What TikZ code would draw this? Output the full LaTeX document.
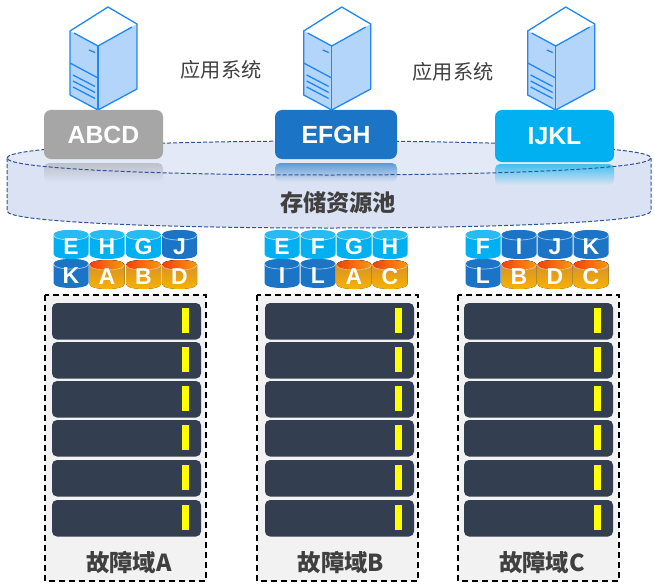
\documentclass[tikz,border=0pt]{standalone}
\usepackage{fontspec}
\setmainfont{Liberation Sans}
\newfontfamily\cjk{Noto Sans CJK SC}
\definecolor{srvline}{HTML}{1E88F5}
\definecolor{srvfill}{HTML}{B4D5FA}
\definecolor{cgray}{HTML}{A6A6A6}
\definecolor{cblue}{HTML}{1B74C5}
\definecolor{ccyan}{HTML}{00B0F0}
\definecolor{discedge}{HTML}{2F5597}
\definecolor{disctop}{HTML}{E4E9F7}
\definecolor{discbody}{HTML}{DAE2F3}
\definecolor{bardark}{HTML}{333F50}
\definecolor{domfill}{HTML}{F2F2F2}
\definecolor{txtdark}{HTML}{404040}
\definecolor{orgtop}{HTML}{F5400A}
\definecolor{orgend}{HTML}{F59A10}
\definecolor{orgmid}{HTML}{D08A30}
\definecolor{orgbot}{HTML}{FAB400}
\definecolor{ledyel}{HTML}{FFFF00}
\tikzset{
  x=1pt,y=-1pt,
  srvln/.style={draw=srvline,line width=1.3pt,line join=round},
  sysbox/.style={rounded corners=7pt},
  boxtext/.style={text=white,font=\bfseries\fontsize{24.8}{25}\selectfont,inner sep=0pt},
  faultdom/.style={draw=black,fill=domfill,line width=1.5pt,dash pattern=on 6pt off 4pt},
  barbox/.style={fill=bardark,rounded corners=5pt},
  ledbar/.style={fill=ledyel},
  cyltext/.style={text=white,font=\bfseries\fontsize{23}{23}\selectfont,inner sep=0pt},
  domlabel/.style={text=txtdark,font=\cjk\bfseries\fontsize{23.4}{24}\selectfont,inner sep=0pt},
  syslabel/.style={text=txtdark,font=\cjk\fontsize{20.2}{21}\selectfont,inner sep=0pt},
  pooldash/.style={draw=discedge,line width=1pt,dash pattern=on 4pt off 2pt},
}
\newcommand{\srv}[1]{
 \begin{scope}[xshift=#1pt]
  \fill[white] (70,31)--(108,7)--(137,24)--(98,46)--cycle;
  \fill[srvfill] (70,31)--(98,46)--(137,24)--(137,89)--(98,110)--(70,95)--cycle;
  \draw[srvln] (70,31)--(108,7)--(137,24)--(137,89)--(98,110)--(70,95)--cycle;
  \draw[srvln] (74,33)--(98,46)--(132,27);
  \draw[srvln] (98,46)--(98,110);
  \draw[srvln] (70,63)--(98,78);
  \draw[srvln] (89,50)--(95,52.5);
  \draw[srvln] (73,75)--(95,86.5);
  \draw[srvln] (73,81)--(95,92.5);
  \draw[srvln] (73,87)--(95,98.5);
 \end{scope}}
% cylinder: x, y, body fill options, top fill options, label, name
\newcommand{\cyl}[6]{
  \fill[#3] (#1,#2+5) .. controls (#1,#2-1.67) and (#1+35,#2-1.67) .. (#1+35,#2+5)
     -- (#1+35,#2+24) .. controls (#1+35,#2+30.67) and (#1,#2+30.67) .. (#1,#2+24) -- cycle;
  \fill[#4] (#1,#2+5) .. controls (#1,#2-1.67) and (#1+35,#2-1.67) .. (#1+35,#2+5)
     .. controls (#1+35,#2+11.67) and (#1,#2+11.67) .. (#1,#2+5) -- cycle;
  \draw[white,opacity=.6,line width=.7pt] (#1,#2+5) .. controls (#1,#2+11.67) and (#1+35,#2+11.67) .. (#1+35,#2+5);
  \node[cyltext] (#6) at (#1+17.5,#2+17) {#5};
}
\newcommand{\blu}[4]{\cyl{#1}{#2}{cblue}{cblue}{#3}{#4}}
\newcommand{\cya}[4]{\cyl{#1}{#2}{ccyan}{ccyan!85!white}{#3}{#4}}
\newcommand{\org}[4]{\cyl{#1}{#2}{top color=orgmid,bottom color=orgbot}{left color=orgtop,right color=orgend}{#3}{#4}}
\newcommand{\dom}[4]{%
  \draw[faultdom] (#1,295) rectangle (#1+161,581);
  \foreach \yy in {303,342,381,420,460,500}{
    \fill[barbox] (#2,\yy) rectangle (#2+149,\yy+36.5);
    \fill[ledbar] (#4,\yy+5) rectangle (#4+7,\yy+30);
  }
  \node[domlabel] (dom#3) at (#1+84,562) {故障域#3};
}
\begin{document}
\begin{tikzpicture}
\useasboundingbox (0,0) rectangle (655,583);
\fill[white] (0,0) rectangle (655,583);
% disc
\fill[discbody] (7,158) -- (7,211) .. controls (7,233.67) and (651,233.67) .. (651,211) -- (651,158) -- cycle;
\fill[disctop] (7,158) .. controls (7,135.33) and (651,135.33) .. (651,158) .. controls (651,180.67) and (7,180.67) .. (7,158) -- cycle;
% reflections
\shade[rounded corners=5pt,top color=cgray!55!discbody,bottom color=discbody] (44,163) rectangle (163,182);
\shade[rounded corners=5pt,top color=cblue!65!discbody,bottom color=discbody] (275,163) rectangle (397,182);
\shade[rounded corners=5pt,top color=ccyan!70!discbody,bottom color=discbody] (495,164) rectangle (614,185);
% disc outline
\draw[pooldash] (7,158) .. controls (7,135.33) and (651,135.33) .. (651,158) .. controls (651,180.67) and (7,180.67) .. (7,158) -- cycle;
\draw[pooldash] (7,158) -- (7,211) .. controls (7,233.67) and (651,233.67) .. (651,211) -- (651,158);
% servers
\srv{0}\srv{233.7}\srv{457.7}
% boxes
\fill[cgray,sysbox] (44,110) rectangle (163,159);
\fill[cblue,sysbox] (275,110) rectangle (397,159);
\fill[ccyan,sysbox] (495,110) rectangle (614,162);
\node[boxtext] (abcd) at (103.5,135) {ABCD};
\node[boxtext] (efgh) at (336,135) {EFGH};
\node[boxtext] (ijkl) at (554.5,136) {IJKL};
% labels
\node[syslabel] (s1) at (221,70) {应用系统};
\node[syslabel] (s2) at (453,72) {应用系统};
\node[font=\cjk\bfseries\fontsize{23.2}{24}\selectfont,text=txtdark,inner sep=0pt] (pool) at (338,203) {存储资源池};
% cylinders
\cya{53.5}{230}{E}{a1}\cya{89.5}{230}{H}{a2}\cya{126}{230}{G}{a3}\blu{162}{230}{J}{a4}
\blu{53.5}{259}{K}{a5}\org{89.5}{260}{A}{a6}\org{126}{260}{B}{a7}\org{162}{260}{D}{a8}
\cya{264.5}{230}{E}{b1}\cya{300.5}{230}{F}{b2}\cya{336.5}{230}{G}{b3}\cya{372.5}{230}{H}{b4}
\blu{264.5}{259}{I}{b5}\blu{300.5}{259}{L}{b6}\org{336.5}{260}{A}{b7}\org{372.5}{260}{C}{b8}
\cya{465.5}{230}{F}{c1}\blu{501.5}{230}{I}{c2}\blu{537.5}{230}{J}{c3}\blu{573.5}{230}{K}{c4}
\blu{465.5}{259}{L}{c5}\org{501.5}{260}{B}{c6}\org{537.5}{260}{D}{c7}\org{573.5}{260}{C}{c8}
% fault domains
\dom{45}{52}{A}{182}
\dom{257}{265}{B}{395}
\dom{458}{464}{C}{594}
\end{tikzpicture}
\end{document}
